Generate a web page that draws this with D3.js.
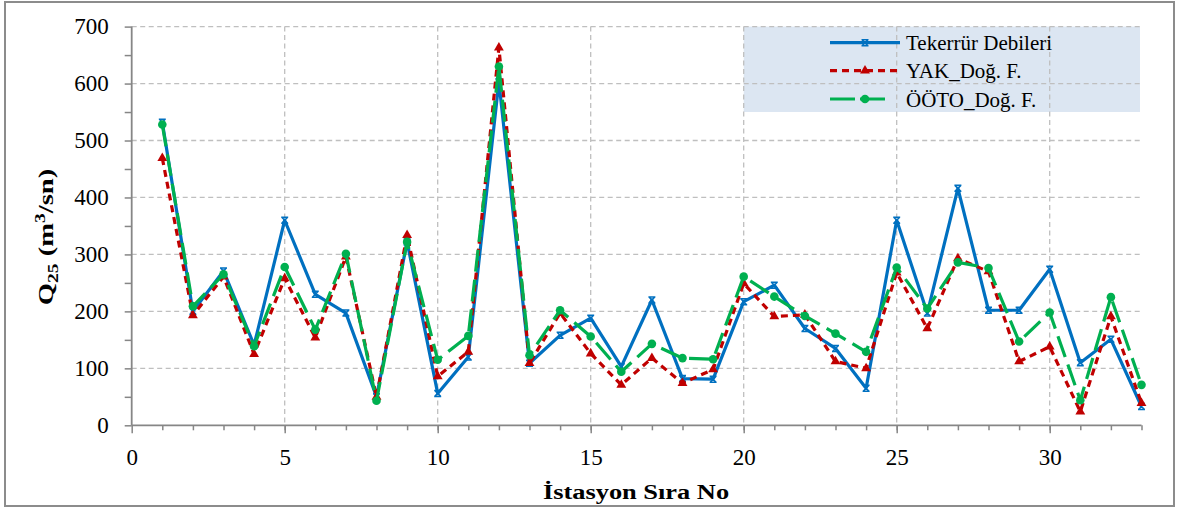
<!DOCTYPE html>
<html>
<head>
<meta charset="utf-8">
<script src="https://cdn.jsdelivr.net/npm/d3@7"></script>
<style>
  html, body { margin: 0; padding: 0; background: #fff; }
  svg { display: block; }
  svg text { font-family: "Liberation Serif", "Times New Roman", serif; }
</style>
</head>
<body>
<svg id="chart" width="1178" height="510"></svg>
<script>
// Station numbers
const stations = d3.range(1, 34);

// Q25 discharge values (m3/sn) per station
const tekerrur = [532, 200, 271, 141, 360, 230, 197, 50, 322, 56, 120, 603, 109, 158, 188, 103, 220, 82, 81, 217, 246, 170, 135, 65, 360, 197, 416, 202, 202, 274, 110, 151, 33];
const yak      = [469, 193, 261, 125, 258, 154, 296, 50, 334, 86, 129, 663, 109, 197, 126, 71, 118, 74, 98, 249, 191, 194, 112, 100, 268, 170, 293, 270, 112, 138, 24, 191, 39];
const ooto     = [528, 209, 265, 139, 278, 168, 301, 43, 322, 115, 157, 630, 123, 202, 156, 94, 143, 118, 116, 261, 226, 192, 161, 129, 277, 205, 286, 276, 147, 198, 44, 225, 71];

// Axis ticks
const xTicks = [0, 5, 10, 15, 20, 25, 30];
const yTicks = [0, 100, 200, 300, 400, 500, 600, 700];

const seriesNames = ["Tekerrür Debileri", "YAK_Doğ. F.", "ÖÖTO_Doğ. F."];

const svg = d3.select("#chart");
const plotLeft = 131.7, plotRight = 1141.5, plotTop = 26.6, plotBottom = 425.3;

const x = d3.scaleLinear().domain([0, 33]).range([plotLeft, plotRight]);
const y = d3.scaleLinear().domain([0, 700]).range([plotBottom, plotTop]);

// Outer frame
svg.append("rect")
  .attr("x", 5).attr("y", 2).attr("width", 1169).attr("height", 504)
  .attr("fill", "#fff").attr("stroke", "#8c8c8c").attr("stroke-width", 2);

// Legend background (sits under the gridlines)
svg.append("rect")
  .attr("x", x(20)).attr("y", y(700)).attr("width", 1140 - x(20)).attr("height", 112 - y(700))
  .attr("fill", "#dce6f2");

// Gridlines
const grid = svg.append("g").attr("stroke", "#bfbfbf").attr("stroke-width", 1.3).attr("stroke-dasharray", "5,3.5");
grid.selectAll("line.h").data(yTicks.filter(d => d > 0)).join("line").attr("class", "h")
  .attr("x1", plotLeft).attr("x2", plotRight).attr("y1", d => y(d)).attr("y2", d => y(d));
grid.selectAll("line.v").data(xTicks.filter(d => d > 0)).join("line").attr("class", "v")
  .attr("x1", d => x(d)).attr("x2", d => x(d)).attr("y1", plotTop).attr("y2", plotBottom);

// Axes
const axisColor = "#868686";
const yAxis = d3.axisLeft(y).tickValues(d3.range(0, 701, 50)).tickSize(7).tickFormat(d => d % 100 === 0 ? d : "");
const yg = svg.append("g").attr("transform", `translate(${plotLeft},0)`).call(yAxis);
yg.select(".domain").attr("stroke", axisColor).attr("stroke-width", 1.8).attr("d", `M0,${plotTop}V${plotBottom}`);
yg.selectAll(".tick line").attr("stroke", axisColor).attr("stroke-width", 1.5);
yg.selectAll(".tick text").attr("font-size", 23).attr("fill", "#000").attr("x", -23);

// Minor x ticks at every station
const xMinor = d3.axisBottom(x).tickValues(stations).tickSize(5).tickFormat("");
const xm = svg.append("g").attr("transform", `translate(0,${plotBottom})`).call(xMinor);
xm.select(".domain").remove();
xm.selectAll(".tick line").attr("stroke", axisColor).attr("stroke-width", 1.5);

const xAxis = d3.axisBottom(x).tickValues(xTicks).tickSize(8);
const xg = svg.append("g").attr("transform", `translate(0,${plotBottom})`).call(xAxis);
xg.select(".domain").attr("stroke", axisColor).attr("stroke-width", 1.8).attr("d", `M${plotLeft},0H${plotRight}`);
xg.selectAll(".tick line").attr("stroke", axisColor).attr("stroke-width", 1.5);
xg.selectAll(".tick text").attr("font-size", 23).attr("fill", "#000").attr("dy", null).attr("y", 40);

// Axis titles
svg.append("text")
  .attr("transform", "translate(636,499) scale(1.2,1)")
  .attr("text-anchor", "middle").attr("font-weight", "bold").attr("font-size", 22)
  .text("İstasyon Sıra No");

const yt = svg.append("text")
  .attr("transform", "translate(53,237) rotate(-90) scale(1.3,1)")
  .attr("text-anchor", "middle").attr("font-weight", "bold").attr("font-size", 22);
yt.append("tspan").text("Q");
yt.append("tspan").attr("font-size", 15).attr("dy", 5).text("25");
yt.append("tspan").attr("dy", -5).text(" (m");
yt.append("tspan").attr("font-size", 15).attr("dy", -8).text("3");
yt.append("tspan").attr("dy", 8).text("/sn)");

// Series definitions
const series = [
  { name: seriesNames[0], values: tekerrur, color: "#0070c0", dash: null, marker: "x" },
  { name: seriesNames[1], values: yak, color: "#c00000", dash: "7,5", marker: "tri" },
  { name: seriesNames[2], values: ooto, color: "#00b050", dash: "22,8", marker: "dot" }
];

const line = d3.line().x((d, i) => x(stations[i])).y(d => y(d));

function drawMarker(g, mk, color, cx, cy) {
  if (mk === "dot") {
    g.append("circle").attr("cx", cx).attr("cy", cy).attr("r", 4.3).attr("fill", color);
  } else if (mk === "tri") {
    g.append("path").attr("d", d3.symbol(d3.symbolTriangle, 42)()).attr("transform", `translate(${cx},${cy})`).attr("fill", color);
  } else {
    g.append("path").attr("d", `M${cx - 3},${cy - 3}L${cx + 3},${cy + 3}M${cx - 3},${cy + 3}L${cx + 3},${cy - 3}M${cx - 3.5},${cy - 3}H${cx + 3.5}M${cx - 3.5},${cy + 3}H${cx + 3.5}`)
      .attr("stroke", color).attr("stroke-width", 1.5).attr("fill", "none");
  }
}

// Blue first, then red, then green on top
series.forEach(s => {
  const g = svg.append("g");
  g.append("path").datum(s.values).attr("d", line)
    .attr("fill", "none").attr("stroke", s.color).attr("stroke-width", 3.2)
    .attr("stroke-dasharray", s.dash).attr("stroke-linejoin", "round");
  s.values.forEach((v, i) => drawMarker(g, s.marker, s.color, x(stations[i]), y(v)));
});

// Legend
const legendRows = [42.7, 70.7, 99];
series.forEach((s, i) => {
  const g = svg.append("g");
  const ly = legendRows[i];
  const x2 = s.marker === "dot" ? 890 : 900;
  g.append("line").attr("x1", 830).attr("x2", x2).attr("y1", ly).attr("y2", ly)
    .attr("stroke", s.color).attr("stroke-width", 3.2)
    .attr("stroke-dasharray", s.marker === "dot" ? "25,5" : s.dash);
  drawMarker(g, s.marker, s.color, 865, ly);
  g.append("text").attr("x", 906).attr("y", ly + 7.5).attr("font-size", 21).text(s.name);
});
</script>
</body>
</html>
